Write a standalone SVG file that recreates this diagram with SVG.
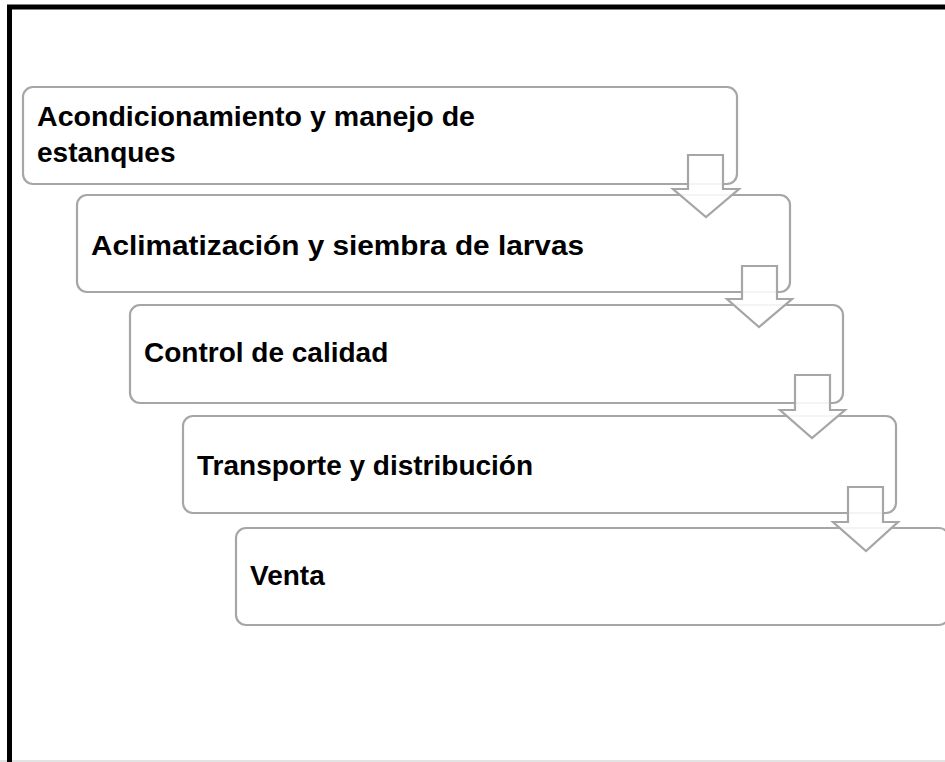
<svg xmlns="http://www.w3.org/2000/svg" width="945" height="762" viewBox="0 0 945 762">
<style>
.box{fill:#fff;stroke:#a6a6a6;stroke-width:2.2}
.lbl{font-family:"Liberation Sans",Arial,sans-serif;font-weight:bold;font-size:28px;fill:#000}
.arr{fill:#fff;fill-opacity:0.88;stroke:#a6a6a6;stroke-width:2.2;stroke-linejoin:miter}
</style>
<rect width="945" height="762" fill="#fff"/>
<line x1="0" y1="761" x2="945" y2="761" stroke="#e3e3e3" stroke-width="2"/>
<path d="M9.5 762 V7 H945" fill="none" stroke="#000" stroke-width="5"/>
<g id="node1"><rect class="box" x="23" y="87" width="714" height="97" rx="10"/>
<text class="lbl" x="37" y="126" textLength="438" lengthAdjust="spacingAndGlyphs">Acondicionamiento y manejo de</text>
<text class="lbl" x="37" y="162">estanques</text></g>
<g id="node2"><rect class="box" x="77" y="195" width="713" height="97" rx="10"/>
<text class="lbl" x="91" y="255" textLength="493" lengthAdjust="spacingAndGlyphs">Aclimatización y siembra de larvas</text></g>
<g id="node3"><rect class="box" x="130" y="305" width="713" height="98" rx="10"/>
<text class="lbl" x="144" y="362">Control de calidad</text></g>
<g id="node4"><rect class="box" x="183" y="416" width="713" height="97" rx="10"/>
<text class="lbl" x="197" y="475">Transporte y distribución</text></g>
<g id="node5"><rect class="box" x="236" y="528" width="713" height="97" rx="10"/>
<text class="lbl" x="250" y="585">Venta</text></g>
<g id="connectors">
<path class="arr" d="M688 155 H723 V189 H739 L706 217 L673 189 H688 Z"/>
<path class="arr" d="M742 266 H777 V299 H792 L759 327 L727 299 H742 Z"/>
<path class="arr" d="M795 375 H830 V410 H845 L812 438 L780 410 H795 Z"/>
<path class="arr" d="M848 487 H883 V522 H898 L866 551 L833 522 H848 Z"/>
</g>
</svg>
